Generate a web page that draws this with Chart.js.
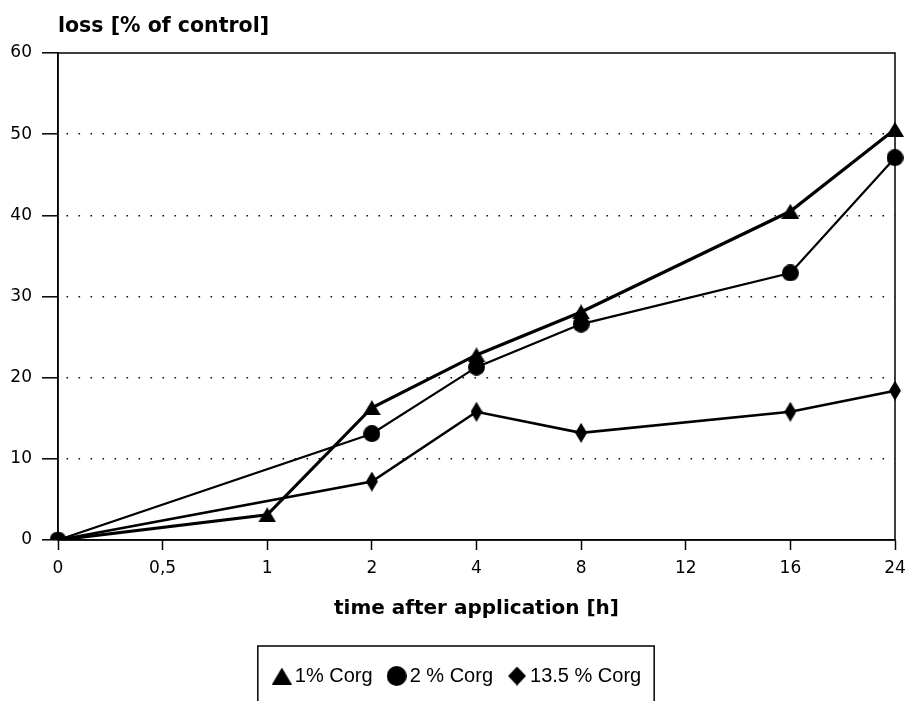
<!DOCTYPE html>
<html>
<head>
<meta charset="utf-8">
<script src="https://cdn.jsdelivr.net/npm/chart.js@4.4.0/dist/chart.umd.min.js"></script>
<style>
  html, body { margin: 0; padding: 0; background: #fff; }
  canvas { display: block; }
</style>
</head>
<body>
<canvas id="c" width="907" height="701"></canvas>
<script>
// ---- data ----
const timeLabels = ['0', '0,5', '1', '2', '4', '8', '12', '16', '24'];
const corg1 = [0, null, 3.1, 16.3, 22.8, 28.1, null, 40.5, 50.6];
const corg2 = [0, null, null, 13.1, 21.3, 26.6, null, 32.9, 47.1];
const corg135 = [0, null, null, 7.2, 15.8, 13.2, null, 15.8, 18.4];
const seriesNames = ['1% Corg', '2 % Corg', '13.5 % Corg'];
const yTicks = [0, 10, 20, 30, 40, 50, 60];
const yTitle = 'loss [% of control]';
const xTitle = 'time after application [h]';

// ---- marker images ----
function mk(w, h, draw) {
  const c = document.createElement('canvas');
  c.width = w; c.height = h;
  const g = c.getContext('2d');
  g.fillStyle = '#000';
  g.beginPath();
  draw(g, w, h);
  g.fill();
  return c;
}
const tri = (w, h) => mk(w, h, (g, w, h) => { g.moveTo(w / 2, 0); g.lineTo(w, h); g.lineTo(0, h); g.closePath(); });
const circ = (d) => mk(d, d, (g, w, h) => { g.arc(w / 2, h / 2, w / 2, 0, Math.PI * 2); });
const dia = (w, h) => mk(w, h, (g, w, h) => { g.moveTo(w / 2, 0); g.lineTo(w, h / 2); g.lineTo(w / 2, h); g.lineTo(0, h / 2); g.closePath(); });

const markers = [tri(18, 15), circ(17), dia(12, 20)];
const legendMarkers = [tri(20, 17), circ(20), dia(18, 19)];

const frame = {
  id: 'frame',
  afterLayout(chart) {
    // shift the legend block a little to the right, as in the original
    chart.legend.left += 13;
  },
  beforeDatasetsDraw(chart) {
    const { ctx, chartArea: a } = chart;
    ctx.save();
    ctx.strokeStyle = '#000';
    ctx.lineWidth = 1.5;
    ctx.strokeRect(a.left, a.top, a.right - a.left, a.bottom - a.top);
    ctx.restore();
  },
  afterDraw(chart) {
    const { ctx, chartArea: a } = chart;
    ctx.save();
    ctx.font = 'bold 20.5px "DejaVu Sans"';
    ctx.fillStyle = '#000';
    ctx.textAlign = 'left';
    ctx.textBaseline = 'alphabetic';
    ctx.fillText(yTitle, a.left, a.top - 21);
    // legend box
    const lg = chart.legend;
    const hb = lg.legendHitBoxes;
    if (hb && hb.length) {
      const last = hb[hb.length - 1];
      const l = hb[0].left - 21;
      const r = last.left + last.width + 13;
      const t = lg.top + 1;
      ctx.strokeStyle = '#000';
      ctx.lineWidth = 1.5;
      ctx.beginPath();
      ctx.moveTo(l, chart.height + 5);
      ctx.lineTo(l, t);
      ctx.lineTo(r, t);
      ctx.lineTo(r, chart.height + 5);
      ctx.stroke();
    }
    ctx.restore();
  }
};

const tickFont = { family: 'DejaVu Sans', size: 17 };

new Chart(document.getElementById('c'), {
  type: 'line',
  data: {
    labels: timeLabels,
    datasets: [
      { label: seriesNames[0], data: corg1, borderColor: '#000', borderWidth: 3.2, pointStyle: markers[0], pointRadius: 8, spanGaps: true, tension: 0 },
      { label: seriesNames[1], data: corg2, borderColor: '#000', borderWidth: 2.2, pointStyle: markers[1], pointRadius: 8, spanGaps: true, tension: 0 },
      { label: seriesNames[2], data: corg135, borderColor: '#000', borderWidth: 2.6, pointStyle: markers[2], pointRadius: 8, spanGaps: true, tension: 0 }
    ]
  },
  options: {
    responsive: false,
    animation: false,
    devicePixelRatio: 1,
    layout: { padding: { top: 53, left: 0, right: 0, bottom: 5 } },
    plugins: {
      title: { display: false },
      tooltip: { enabled: false },
      legend: {
        position: 'bottom',
        align: 'center',
        labels: {
          usePointStyle: true,
          boxWidth: 6,
          padding: 21,
          color: '#000',
          font: { family: 'Liberation Sans', size: 20 },
          generateLabels(chart) {
            return chart.data.datasets.map((ds, i) => ({
              text: ds.label,
              pointStyle: legendMarkers[i],
              fillStyle: '#000',
              strokeStyle: '#000',
              lineWidth: 0,
              fontColor: '#000',
              hidden: false,
              datasetIndex: i
            }));
          }
        }
      }
    },
    scales: {
      x: {
        type: 'category',
        offset: false,
        afterFit(s) { s.height = 105; s.paddingRight = 12; s.paddingLeft = 0; },
        grid: { drawOnChartArea: false, drawTicks: true, tickLength: 10, tickColor: '#000', tickWidth: 1.5 },
        border: { display: true, color: '#000', width: 1.5 },
        ticks: { color: '#000', font: tickFont, padding: 8, maxRotation: 0, autoSkip: false },
        title: { display: true, text: xTitle, color: '#000', font: { family: 'DejaVu Sans', size: 20, weight: 'bold' }, padding: { top: 0, bottom: 24 } }
      },
      y: {
        min: 0,
        max: 60,
        afterFit(s) { s.width = 58; },
        afterBuildTicks(s) { s.ticks = yTicks.map(v => ({ value: v })); },
        grid: {
          color: (c) => (c.tick && (c.tick.value === 0 || c.tick.value === 60)) ? 'rgba(0,0,0,0)' : '#111',
          lineWidth: 1.6,
          tickLength: 16,
          tickColor: '#000',
          tickWidth: 1.5,
          tickBorderDash: []
        },
        border: { display: true, color: '#000', width: 1.5, dash: [1.6, 10.4], dashOffset: -8 },
        ticks: { color: '#000', font: tickFont, padding: 10 }
      }
    }
  },
  plugins: [frame]
});
</script>
</body>
</html>
